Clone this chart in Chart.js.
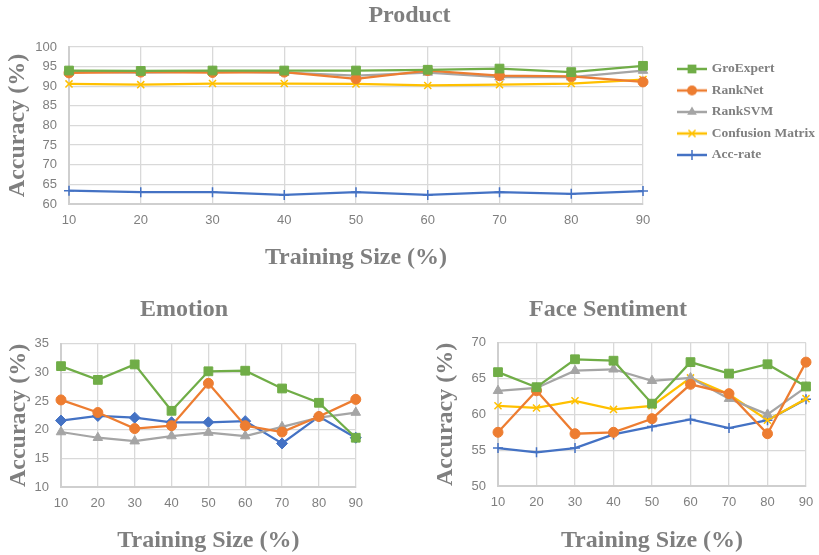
<!DOCTYPE html>
<html>
<head>
<meta charset="utf-8">
<script src="https://cdn.jsdelivr.net/npm/chart.js@4.4.0/dist/chart.umd.min.js"></script>
<style>
html, body { margin: 0; padding: 0; background: #fff; width: 819px; height: 555px; overflow: hidden; }
canvas { position: absolute; }
</style>
</head>
<body>
<canvas id="product" width="819" height="275" style="left:0;top:0"></canvas>
<canvas id="emotion" width="372" height="270" style="left:0;top:285px"></canvas>
<canvas id="face" width="428" height="270" style="left:410px;top:285px"></canvas>
<script>
// training sizes on the x axis
const sizes = ["10", "20", "30", "40", "50", "60", "70", "80", "90"];
const seriesNames = ["GroExpert", "RankNet", "RankSVM", "Confusion Matrix", "Acc-rate"];

// Product
const productGro = [94.0, 93.9, 94.0, 94.0, 94.0, 94.2, 94.5, 93.6, 95.2];
const productRankNet = [93.4, 93.6, 93.5, 93.6, 91.9, 94.0, 92.7, 92.5, 91.1];
const productRankSVM = [93.7, 93.5, 93.8, 93.5, 92.7, 93.5, 92.3, 92.3, 94.0];
const productConfusion = [90.6, 90.4, 90.7, 90.7, 90.6, 90.2, 90.4, 90.7, 91.7];
const productAccRate = [63.4, 63.0, 63.0, 62.3, 63.0, 62.3, 63.0, 62.6, 63.3];

// Emotion (no confusion matrix series)
const emotionGro = [31.1, 28.7, 31.4, 23.3, 30.2, 30.3, 27.2, 24.7, 18.6];
const emotionRankNet = [25.2, 23.0, 20.2, 20.7, 28.1, 20.7, 19.6, 22.3, 25.3];
const emotionRankSVM = [19.6, 18.6, 18.0, 18.9, 19.5, 18.9, 20.5, 22.1, 23.0];
const emotionAccRate = [21.6, 22.4, 22.1, 21.3, 21.3, 21.5, 17.6, 22.3, 18.6];

// Face Sentiment
const faceGro = [65.9, 63.8, 67.7, 67.5, 61.5, 67.3, 65.7, 67.0, 63.9];
const faceRankNet = [57.5, 63.3, 57.3, 57.5, 59.4, 64.2, 62.9, 57.3, 67.3];
const faceRankSVM = [63.3, 63.7, 66.1, 66.3, 64.7, 65.1, 62.2, 60.0, 63.8];
const faceConfusion = [61.2, 60.9, 61.9, 60.7, 61.2, 65.1, 62.8, 59.2, 62.2];
const faceAccRate = [55.3, 54.7, 55.3, 57.2, 58.3, 59.3, 58.1, 59.2, 62.1];

const gray = "#7f7f7f";
const styles = {
    gro: {color: "#70AD47", point: "rect", r: 6.2, bw: 1},
    rankNet: {color: "#ED7D31", point: "circle", r: 5, bw: 1},
    rankSVM: {color: "#A5A5A5", point: "triangle", r: 5.5, bw: 1},
    confusion: {color: "#FFC000", point: "crossRot", r: 5, bw: 1.5},
    accCross: {color: "#4472C4", point: "cross", r: 5, bw: 1.5},
    accDiamond: {color: "#4472C4", point: "rectRot", r: 5.5, bw: 1}
};

function ds(name, data, st){
    return {
        label: name,
        data: data,
        borderColor: st.color,
        backgroundColor: st.color,
        borderWidth: 2.25,
        tension: 0,
        pointStyle: st.point,
        pointRadius: st.r,
        pointBackgroundColor: st.color,
        pointBorderColor: st.color,
        pointBorderWidth: st.bw,
        clip: false
    };
}

// small picture of line + marker for the legend
function legendIcon(st){
    const c = document.createElement("canvas");
    c.width = 30; c.height = 14;
    const ctx = c.getContext("2d");
    ctx.strokeStyle = st.color;
    ctx.fillStyle = st.color;
    ctx.lineWidth = 2.5;
    ctx.beginPath(); ctx.moveTo(0, 7); ctx.lineTo(30, 7); ctx.stroke();
    const x = 15, y = 7, r = st.r;
    ctx.lineWidth = st.bw;
    ctx.beginPath();
    if(st.point == "rect"){
        const s = r * Math.SQRT1_2;
        ctx.rect(x - s, y - s, 2 * s, 2 * s); ctx.fill();
    }else if(st.point == "circle"){
        ctx.arc(x, y, r, 0, Math.PI * 2); ctx.fill();
    }else if(st.point == "triangle"){
        ctx.moveTo(x, y - r); ctx.lineTo(x + r * 0.87, y + r * 0.5); ctx.lineTo(x - r * 0.87, y + r * 0.5);
        ctx.closePath(); ctx.fill();
    }else if(st.point == "crossRot"){
        const s = r * Math.SQRT1_2;
        ctx.moveTo(x - s, y - s); ctx.lineTo(x + s, y + s);
        ctx.moveTo(x - s, y + s); ctx.lineTo(x + s, y - s); ctx.stroke();
    }else{
        ctx.moveTo(x, y - r); ctx.lineTo(x, y + r);
        ctx.moveTo(x - r, y); ctx.lineTo(x + r, y); ctx.stroke();
    }
    return c;
}

function makeChart(id, cfg){
    return new Chart(id, {
        type: "line",
        data: {labels: sizes, datasets: cfg.datasets},
        options: {
            responsive: false,
            animation: false,
            layout: {padding: {left: 0, right: cfg.padRight, top: 0, bottom: 0}},
            scales: Object.assign({
                x: {
                    grid: {color: "#d9d9d9", lineWidth: 1.3, drawTicks: false},
                    border: {color: "#cfcfcf", width: 2},
                    ticks: {color: gray, padding: 9, font: {family: "Liberation Sans", size: 13}, maxRotation: 0},
                    title: {display: true, text: "Training Size (%)", color: gray,
                        font: {family: "Liberation Serif", size: 24, weight: "bold"},
                        padding: {top: 0, bottom: cfg.xTitleBottom}},
                    afterFit: function(s){ s.height = cfg.xHeight; }
                },
                y: {
                    min: cfg.yMin, max: cfg.yMax,
                    grid: {color: "#d9d9d9", lineWidth: 1.3, drawTicks: false},
                    border: {color: "#cfcfcf", width: 2},
                    ticks: {stepSize: 5, color: gray, padding: 12, font: {family: "Liberation Sans", size: 13}},
                    title: {display: true, text: "Accuracy (%)", color: gray,
                        font: {family: "Liberation Serif", size: 24, weight: "bold"},
                        padding: {top: cfg.yTitleLeft, bottom: 0}},
                    afterFit: function(s){ s.width = cfg.yWidth; }
                }
            }, cfg.extraScales || {}),
            plugins: {
                title: {
                    display: true, text: cfg.title, color: gray,
                    font: {family: "Liberation Serif", size: 24, weight: "bold"},
                    padding: {top: cfg.titleTop, bottom: cfg.titleBottom}
                },
                legend: cfg.legend || {display: false},
                tooltip: {enabled: false}
            }
        }
    });
}

const productStyles = [styles.gro, styles.rankNet, styles.rankSVM, styles.confusion, styles.accCross];

makeChart("product", {
    title: "Product",
    datasets: [
        ds(seriesNames[0], productGro, styles.gro),
        ds(seriesNames[1], productRankNet, styles.rankNet),
        ds(seriesNames[2], productRankSVM, styles.rankSVM),
        ds(seriesNames[3], productConfusion, styles.confusion),
        ds(seriesNames[4], productAccRate, styles.accCross)
    ],
    yMin: 60, yMax: 100,
    padRight: 0,
    xHeight: 71, yWidth: 69,
    xTitleBottom: 3, yTitleLeft: 3,
    titleTop: 1.5, titleBottom: 16.7,
    // empty axis only to leave a gap between the plot and the legend
    extraScales: {
        gap: {type: "linear", position: "right", display: true,
            grid: {display: false}, border: {display: false}, ticks: {display: false},
            afterFit: function(s){ s.width = 28; }}
    },
    legend: {
        display: true,
        position: "right",
        align: "start",
        fullSize: false,
        maxWidth: 148,
        title: {display: true, text: "", font: {size: 1}, padding: {top: 6, bottom: 0}},
        labels: {
            usePointStyle: true,
            pointStyleWidth: 26,
            padding: 8,
            color: gray,
            font: {family: "Liberation Serif", size: 13.5, weight: "bold"},
            generateLabels: function(chart){
                return chart.data.datasets.map(function(d, i){
                    return {text: d.label, pointStyle: legendIcon(productStyles[i]),
                        fillStyle: d.borderColor, strokeStyle: d.borderColor, lineWidth: 0,
                        fontColor: gray, datasetIndex: i, hidden: false};
                });
            }
        }
    }
});

makeChart("emotion", {
    title: "Emotion",
    datasets: [
        ds(seriesNames[0], emotionGro, styles.gro),
        ds(seriesNames[1], emotionRankNet, styles.rankNet),
        ds(seriesNames[2], emotionRankSVM, styles.rankSVM),
        ds(seriesNames[4], emotionAccRate, styles.accDiamond)
    ],
    yMin: 10, yMax: 35,
    padRight: 4,
    xHeight: 68, yWidth: 61,
    xTitleBottom: 0, yTitleLeft: 4,
    titleTop: 10, titleBottom: 20
});

makeChart("face", {
    title: "Face Sentiment",
    datasets: [
        ds(seriesNames[0], faceGro, styles.gro),
        ds(seriesNames[1], faceRankNet, styles.rankNet),
        ds(seriesNames[2], faceRankSVM, styles.rankSVM),
        ds(seriesNames[3], faceConfusion, styles.confusion),
        ds(seriesNames[4], faceAccRate, styles.accCross)
    ],
    yMin: 50, yMax: 70,
    padRight: 32,
    xHeight: 69, yWidth: 88,
    xTitleBottom: 0, yTitleLeft: 21,
    titleTop: 10, titleBottom: 19
});
</script>
</body>
</html>
